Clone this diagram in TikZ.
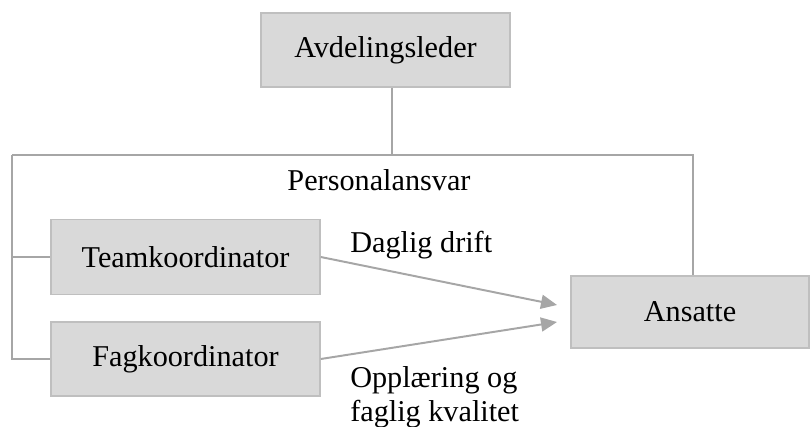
\documentclass[tikz,border=0pt]{standalone}
\usepackage{fontspec}
\setmainfont{Liberation Serif}
\usetikzlibrary{arrows.meta}
\definecolor{boxfill}{HTML}{D9D9D9}
\definecolor{boxline}{HTML}{BFBFBF}
\definecolor{linkgray}{HTML}{A6A6A6}

\begin{document}
\begin{tikzpicture}[x=0.025cm,y=-0.025cm]
\tikzstyle{box}=[draw=boxline,fill=boxfill,line width=1.1pt,inner sep=0pt,font=\fontsize{21.5}{24}\selectfont]
\tikzstyle{link}=[draw=linkgray,line width=1.4pt]
\tikzstyle{txt}=[inner sep=0pt,font=\fontsize{21.5}{24}\selectfont]
\useasboundingbox (0,0) rectangle (811,427);
\foreach \name/\point/\w/\h/\text in {
	avd/{385.5,50}/249/74/Avdelingsleder,
	team/{185.5,257}/269/75/Teamkoordinator,
	fag/{185.5,359}/269/74/Fagkoordinator,
	ans/{690,312}/238/72/Ansatte}
	\node[box,minimum width=\w*0.025cm,minimum height=\h*0.025cm] (\name) at (\point) {\text};
\coordinate (hub) at (392,155);
\coordinate (lt) at (12,155);
\coordinate (rt) at (693,155);
\coordinate (in1) at (557,305);
\coordinate (in2) at (557,322);
\draw[link] (hub |- avd.south) -- (hub);
\draw[link] (lt) -- (rt) -- (rt |- ans.north);
\draw[link] (lt) |- (fag.west);
\draw[link] (lt |- team.west) -- (team.west);
\draw[link,-{Triangle[length=0.4cm,width=0.35cm]}] (team.east) -- (in1);
\draw[link,-{Triangle[length=0.4cm,width=0.35cm]}] (fag.east) -- (in2);
\node[txt] (ansvar) at (379,180) {Personalansvar};
\node[txt,anchor=west] (drift) at (350,245) {Daglig drift};
\node[txt,anchor=west,align=left] (kvalitet) at (350,397) {Opplæring og\\faglig kvalitet};
\end{tikzpicture}
\end{document}
